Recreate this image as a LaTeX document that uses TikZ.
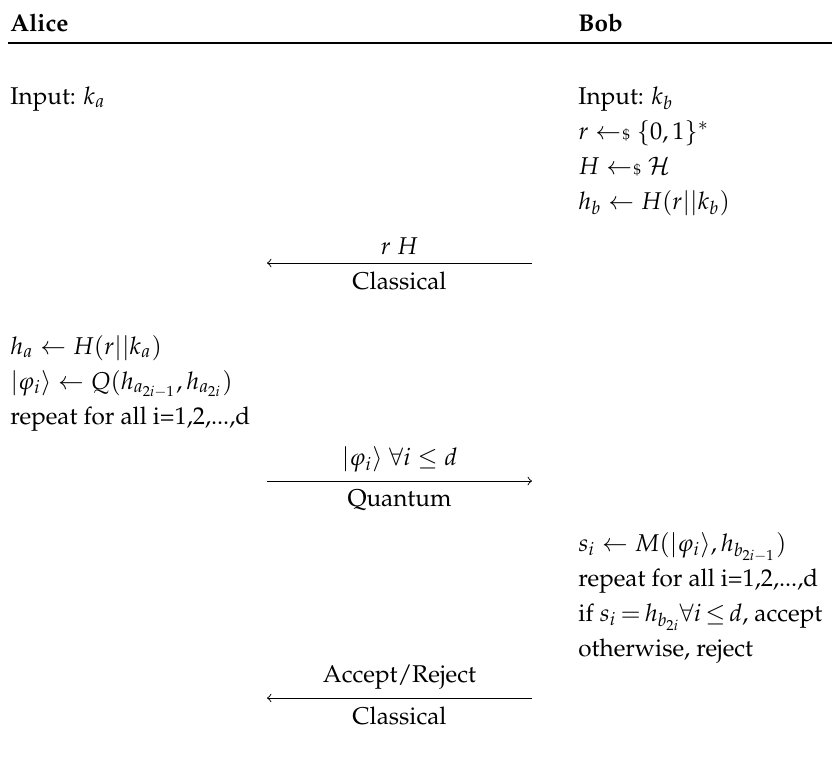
\documentclass[tikz,border=0pt]{standalone}
\usepackage[T1]{fontenc}
\usepackage{amsmath}
\usepackage{amssymb}
\usepackage{mathpazo}
\usepackage{tikz}
\usetikzlibrary{positioning,calc}
\newcommand{\rsmp}{\mathrel{\leftarrow\mkern-4mu{\scriptscriptstyle\$}}}

\begin{document}
\begin{tikzpicture}[x=0.412pt,y=-0.412pt,
  txt/.style={anchor=base west,inner sep=0pt},
  party/.style={txt,font=\bfseries},
  msg/.style={thin,shorten >=0pt}
]
\useasboundingbox (0,0) rectangle (832,771);

% the two parties
\node[party] (alice) at (10,31) {Alice};
\node[party] (bob) at (578,31) {Bob};
\coordinate (rl) at (8,43);
\coordinate (rr) at (832,43);
\draw[line width=0.8pt] (rl) -- (rr);

% Alice, first
\node[txt] (a0) at (10,104) {Input: $k_a$};

% Bob, first
\foreach \i/\y/\txt in {1/104/{Input: $k_b$},
    2/139/{$r \rsmp \{0,1\}^*$},
    3/174/{$H \rsmp \mathcal{H}$},
    4/209/{$h_b \leftarrow H(r||k_b)$}}
  \node[txt] (b\i) at (578,\y) {\txt};

% Alice, second
\foreach \i/\y/\txt in {1/354/{$h_a \leftarrow H(r||k_a)$},
    2/389/{$\lvert\varphi_i\rangle \leftarrow Q(h_{a_{2i-1}},h_{a_{2i}})$},
    3/424/{repeat for all i=1,2,...,d}}
  \node[txt] (a\i) at (10,\y) {\txt};

% Bob, second
\foreach \i/\y/\txt in {5/551/{$s_i \leftarrow M(\lvert\varphi_i\rangle,h_{b_{2i-1}})$},
    6/586/{repeat for all i=1,2,...,d},
    7/621/{if $s_i \mkern-2mu=\mkern-2mu h_{b_{2i}}\mkern-1mu\forall i \mkern-2mu\leq\mkern-2mu d$, accept},
    8/656/{otherwise, reject}}
  \node[txt] (b\i) at (578,\y) {\txt};

% the messages
\coordinate (m1l) at (267,263);
\coordinate (m1r) at (532,263);
\coordinate (m2l) at (267,481);
\coordinate (m2r) at (532,481);
\coordinate (m3l) at (267,698);
\coordinate (m3r) at (532,698);

\draw[msg,->] (m1r) -- node[above] {$r\ H$} node[below] {Classical} (m1l);
\draw[msg,->] (m2l) -- node[above] {$\lvert\varphi_i\rangle\ \forall i \leq d$} node[below] {Quantum} (m2r);
\draw[msg,->] (m3r) -- node[above] {Accept/Reject} node[below] {Classical} (m3l);
\end{tikzpicture}
\end{document}
